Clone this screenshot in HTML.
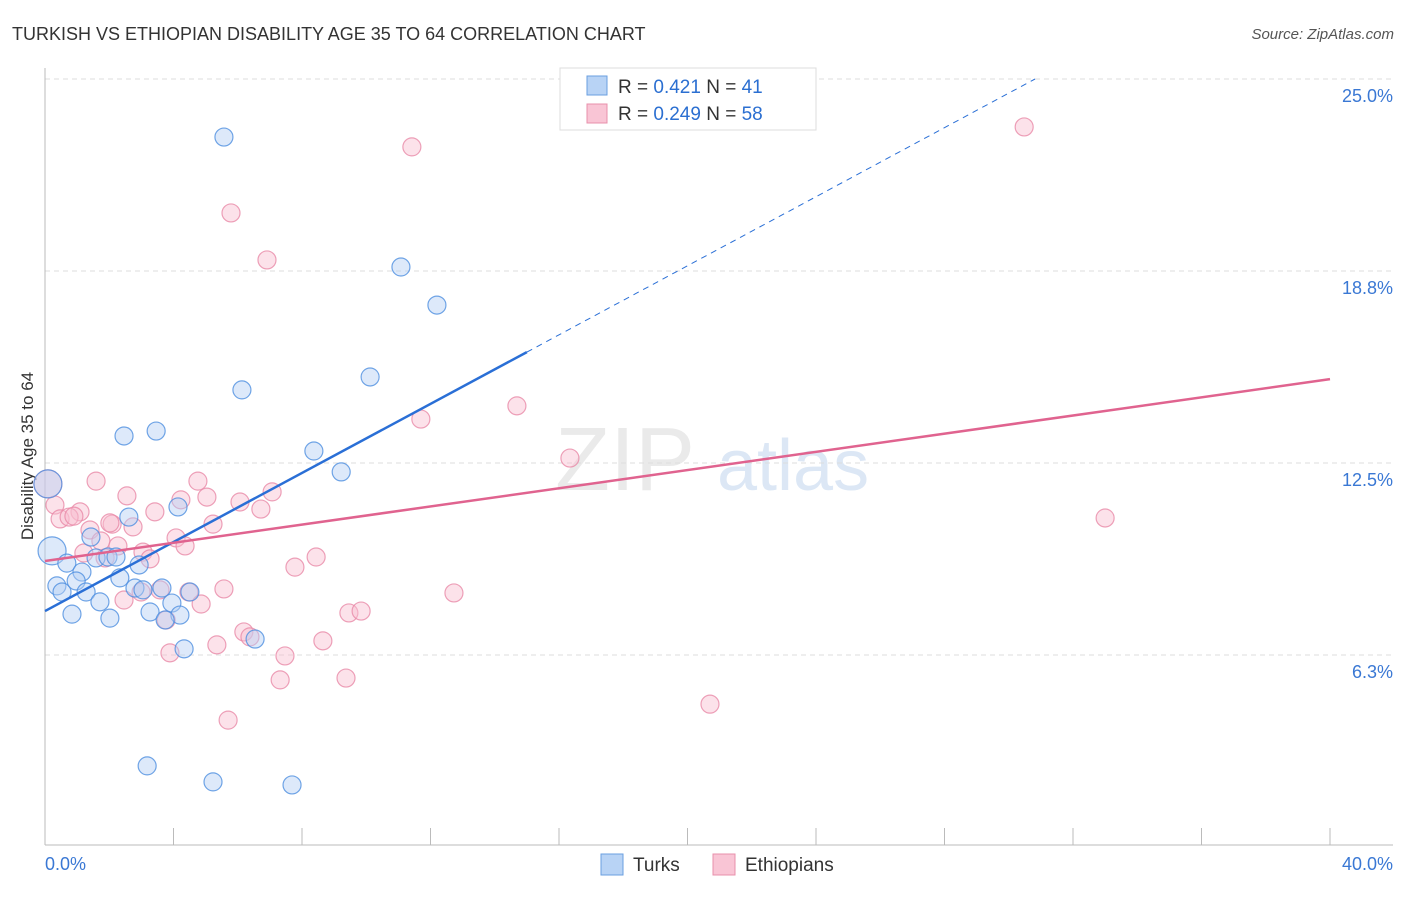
<!DOCTYPE html>
<html><head><meta charset="utf-8"><style>
body{margin:0;background:#fff;font-family:"Liberation Sans",sans-serif;}
svg text{font-family:"Liberation Sans",sans-serif;}
</style></head><body>
<svg id="c" width="1406" height="892" xmlns="http://www.w3.org/2000/svg">
<text x="12" y="40" font-size="18" fill="#333">TURKISH VS ETHIOPIAN DISABILITY AGE 35 TO 64 CORRELATION CHART</text>
<text x="1394" y="39" font-size="15" fill="#555" text-anchor="end" font-style="italic">Source: ZipAtlas.com</text>
<text x="33" y="456" font-size="17" fill="#333" text-anchor="middle" transform="rotate(-90 33 456)">Disability Age 35 to 64</text>
<g><text x="555" y="490" font-size="90" fill="#ddd" font-family="Liberation Serif" opacity="0.6">ZIP</text><text x="717" y="490" font-size="72" fill="#c5d8ef" opacity="0.6">atlas</text></g>
<g id="grid"></g><g id="axes"></g><g id="pts"></g><g id="lines"></g>
<g>
<rect x="560" y="68" width="256" height="62" fill="#fff" stroke="#ddd"/>
<rect x="587" y="76" width="20" height="19" fill="#b8d3f5" stroke="#6a9fe0"/>
<rect x="587" y="104" width="20" height="19" fill="#f9c5d5" stroke="#e890ab"/>
<text x="618" y="93" font-size="19" fill="#333">R = <tspan fill="#2b6fd1">0.421</tspan>   N = <tspan fill="#2b6fd1">41</tspan></text>
<text x="618" y="120" font-size="19" fill="#333">R = <tspan fill="#2b6fd1">0.249</tspan>   N = <tspan fill="#2b6fd1">58</tspan></text>
</g>
<g>
<rect x="601" y="854" width="22" height="21" fill="#b8d3f5" stroke="#6a9fe0"/>
<text x="633" y="871" font-size="19" fill="#333">Turks</text>
<rect x="713" y="854" width="22" height="21" fill="#f9c5d5" stroke="#e890ab"/>
<text x="745" y="871" font-size="19" fill="#333">Ethiopians</text>
</g>
</svg>
<script>
const yTicks=[6.25,12.5,18.75,25];
const yTickLabels=["6.3%","12.5%","18.8%","25.0%"];
const xTickLabels=["0.0%","40.0%"];
const turksX=[5.57,11.08,12.20,6.13,10.12,2.46,3.46,8.37,9.22,0.22,4.14,2.61,1.43,0.68,1.15,0.37,0.53,0.97,1.59,1.96,2.21,2.93,2.33,2.80,3.64,3.05,1.28,1.71,3.95,0.84,2.02,3.27,4.20,3.74,4.51,6.54,4.33,3.18,5.23,7.69,0.09];
const turksY=[23.11,18.88,17.64,14.88,15.30,13.38,13.54,12.89,12.21,9.64,11.07,10.74,10.09,9.24,8.95,8.50,8.30,8.66,9.41,9.44,9.44,9.18,8.76,8.43,8.43,8.37,8.30,7.98,7.94,7.58,7.45,7.65,7.55,7.39,8.30,6.77,6.45,2.64,2.12,2.02,11.82];
const ethX=[30.48,11.42,5.79,6.91,14.69,11.70,16.34,33.00,1.59,0.09,0.31,2.55,4.23,5.04,4.76,6.07,7.07,6.72,3.42,1.09,0.47,0.75,0.90,1.40,2.09,2.74,1.74,2.27,3.05,3.27,4.08,4.36,5.23,1.21,1.87,7.78,8.44,2.46,2.99,3.58,4.48,4.86,5.57,9.46,9.84,12.73,3.77,3.89,5.35,6.19,6.38,8.65,7.47,7.32,9.37,20.70,5.70,2.02];
const ethY=[23.44,22.79,20.64,19.11,14.36,13.93,12.66,10.71,11.91,11.82,11.13,11.43,11.30,11.39,11.91,11.23,11.56,11.00,10.91,10.91,10.68,10.74,10.77,10.32,10.51,10.42,9.96,9.80,9.60,9.38,10.06,9.80,10.51,9.57,9.41,9.11,9.44,8.04,8.30,8.37,8.30,7.91,8.40,7.62,7.68,8.27,7.39,6.32,6.58,7.00,6.84,6.71,6.22,5.44,5.50,4.65,4.13,10.55];
const turksTrend=[7.68,0.562];
const ethTrend=[9.31,0.148];
const X=v=>45+v/40*1285, Y=v=>847-v/25*768;
const NS="http://www.w3.org/2000/svg";
function mk(p,t,a){const e=document.createElementNS(NS,t);for(const k in a)e.setAttribute(k,a[k]);p.appendChild(e);return e;}
const grid=document.getElementById('grid'),axes=document.getElementById('axes'),pts=document.getElementById('pts'),lines=document.getElementById('lines');
yTicks.forEach((t,i)=>{
 const g=mk(grid,'line',{x1:45,x2:1393,y1:Y(t),y2:Y(t),stroke:'#ddd','stroke-dasharray':'5,4'});
 
 
 const l=mk(axes,'text',{x:1393,y:Y(t)+23,'font-size':18,fill:'#3a78d4','text-anchor':'end'});l.textContent=yTickLabels[i];
 
 
});
const ax=mk(axes,'line',{x1:45,x2:45,y1:68,y2:845,stroke:'#bbb'});


const bx=mk(axes,'line',{x1:45,x2:1393,y1:845,y2:845,stroke:'#bbb'});


for(let i=0;i<=10;i++){const tk=mk(axes,'line',{x1:X(i*4),x2:X(i*4),y1:828,y2:845,stroke:'#bbb'});
 
 }
[[0,'start',45],[40,'end',1393]].forEach((d,i)=>{const t=mk(axes,'text',{x:d[2],y:870,'font-size':18,fill:'#3a78d4','text-anchor':d[1]});t.textContent=xTickLabels[i];
 
 });
function dots(xs,ys,fill,stroke,name){xs.forEach((x,i)=>{const big=x<0.3&&(ys[i]>11.5||ys[i]>9.5&&name=='turk');
 const c=mk(pts,'circle',{cx:X(x),cy:Y(ys[i]),r:big?14:9,fill:fill,'fill-opacity':0.45,stroke:stroke,'stroke-width':1.2,'stroke-opacity':0.8});
 
 });}
dots(ethX,ethY,'#f9bfd0','#e88aa8','ethiopian');
dots(turksX,turksY,'#b3cff3','#4d8ee0','turk');
const tl=mk(lines,'line',{x1:X(0),y1:Y(turksTrend[0]),x2:X(15),y2:Y(turksTrend[0]+15*turksTrend[1]),stroke:'#2a6fd6','stroke-width':2.5});


const xe=(25-turksTrend[0])/turksTrend[1];
const td=mk(lines,'line',{x1:X(15),y1:Y(turksTrend[0]+15*turksTrend[1]),x2:X(xe),y2:Y(25),stroke:'#2a6fd6','stroke-width':1,'stroke-dasharray':'6,5'});


const el=mk(lines,'line',{x1:X(0),y1:Y(ethTrend[0]),x2:X(40),y2:Y(ethTrend[0]+40*ethTrend[1]),stroke:'#e0638f','stroke-width':2.5});


</script>
</body></html>
